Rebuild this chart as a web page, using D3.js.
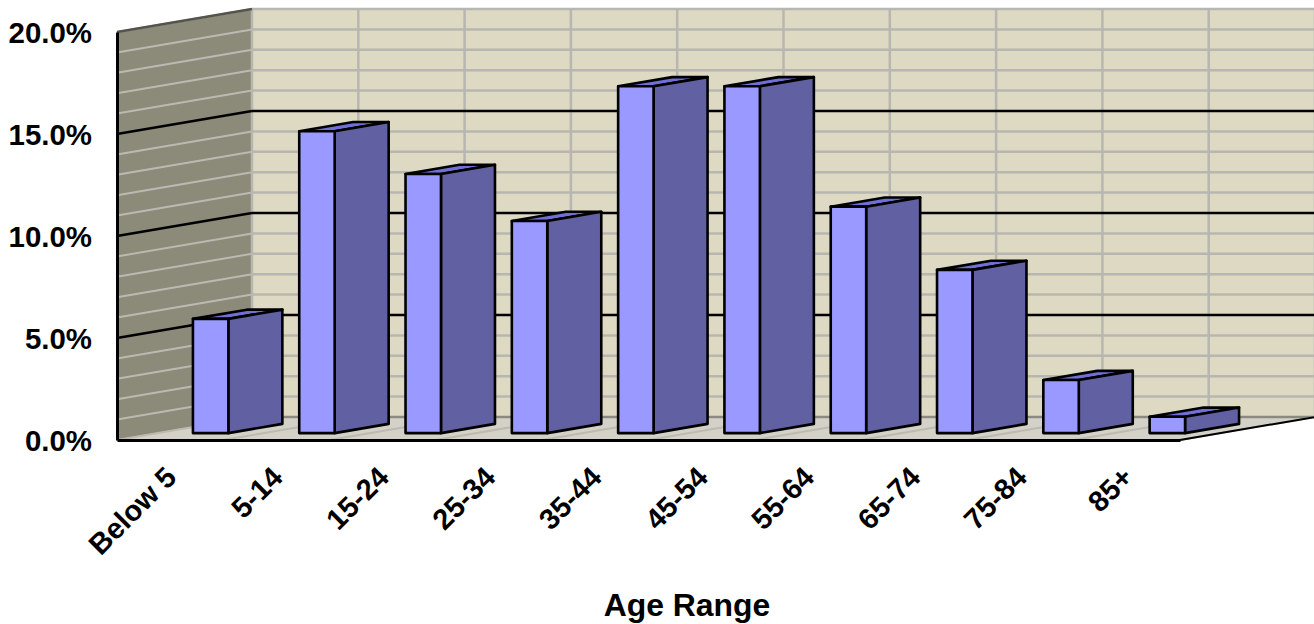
<!DOCTYPE html>
<html>
<head>
<meta charset="utf-8">
<script src="https://cdn.jsdelivr.net/npm/d3@7"></script>
<style>
    html, body { margin: 0; padding: 0; background: #fff; overflow: hidden; }
    svg { display: block; }
    text { font-family: "Liberation Sans", Arial, sans-serif; font-weight: bold; fill: #000; }
</style>
</head>
<body>
<div id="chart"></div>
<script>
const categories = ['Below 5', '5-14', '15-24', '25-34', '35-44', '45-54', '55-64', '65-74', '75-84', '85+'];
const shares = [5.6, 14.8, 12.7, 10.4, 17.0, 17.0, 11.1, 8.0, 2.6, 0.8];
const majorTicks = [0, 5, 10, 15, 20];
const minorTicks = d3.range(0, 21);

const width = 1314, height = 624;

const svg = d3.select('#chart').append('svg')
    .attr('width', width)
    .attr('height', height);

// front plane scales
const x = d3.scaleBand().domain(categories).range([117, 1180]);
const y = d3.scaleLinear().domain([0, 20]).range([440, 32]);

// depth goes from the front plane (0) to the back wall (1)
const depthX = d3.scaleLinear().domain([0, 1]).range([0, 135]);
const depthY = d3.scaleLinear().domain([0, 1]).range([0, -23]);

// project a point: px on the front plane, value, depth
function pt(px, value, depth) {
    return [px + depthX(depth), y(value) + depthY(depth)];
}
function poly(points) {
    return points.map(p => p.join(',')).join(' ');
}
function seg(sel, a, b) {
    return sel.append('line')
        .attr('x1', a[0]).attr('y1', a[1])
        .attr('x2', b[0]).attr('y2', b[1]);
}

const left = x.range()[0], right = x.range()[1];
const edges = categories.map(c => x(c)).concat([right]);

// walls and floor
svg.append('polygon')
    .attr('points', poly([pt(left, 0, 1), pt(right, 0, 1), pt(right, 20, 1), pt(left, 20, 1)]))
    .attr('fill', '#ddd9c3');
svg.append('polygon')
    .attr('points', poly([pt(left, 0, 0), pt(left, 0, 1), pt(left, 20, 1), pt(left, 20, 0)]))
    .attr('fill', '#8c8a78');
svg.append('polygon')
    .attr('points', poly([pt(left, 0, 0), pt(right, 0, 0), pt(right, 0, 1), pt(left, 0, 1)]))
    .attr('fill', '#d4d1c8');

const grid = svg.append('g');

// minor grid
minorTicks.filter(t => !majorTicks.includes(t) || t === 20 || t === 0).forEach(t => {
    seg(grid, pt(left, t, 0), pt(left, t, 1)).attr('stroke', '#bbb9b2').attr('stroke-width', t === 0 ? 1 : 2);
    seg(grid, pt(left, t, 1), pt(right, t, 1)).attr('stroke', t === 0 ? '#8c8a80' : '#b8b6b0').attr('stroke-width', 2.5);
});
edges.forEach(e => {
    seg(grid, pt(e, 0, 1), pt(e, 20, 1)).attr('stroke', '#b8b6b0').attr('stroke-width', 2.5);
    seg(grid, pt(e, 0, 0), pt(e, 0, 1)).attr('stroke', '#bdbab0').attr('stroke-width', 2);
});

// major grid
majorTicks.filter(t => t > 0 && t < 20).forEach(t => {
    seg(grid, pt(left, t, 0), pt(left, t, 1)).attr('stroke', '#000').attr('stroke-width', 2.5);
    seg(grid, pt(left, t, 1), pt(right, t, 1)).attr('stroke', '#000').attr('stroke-width', 2.5);
});
seg(grid, pt(left, 20, 0), pt(left, 20, 1)).attr('stroke', '#55544c').attr('stroke-width', 2.5);
seg(grid, pt(right, 0, 0), pt(right, 0, 1)).attr('stroke', '#000').attr('stroke-width', 2);

// bars
const barW = x.bandwidth() / 3;
const d0 = 0.3, d1 = 0.7;
const bars = svg.append('g')
    .selectAll('g')
    .data(categories.map((c, i) => ({ c, v: shares[i] })))
    .join('g')
    .attr('stroke', '#000')
    .attr('stroke-width', 2.6)
    .attr('stroke-linejoin', 'round');

bars.append('polygon')
    .attr('fill', '#6f6fd6')
    .attr('points', d => {
        const a = x(d.c) + barW, b = a + barW;
        return poly([pt(a, d.v, d0), pt(b, d.v, d0), pt(b, d.v, d1), pt(a, d.v, d1)]);
    });
bars.append('polygon')
    .attr('fill', '#6060a2')
    .attr('points', d => {
        const b = x(d.c) + 2 * barW;
        return poly([pt(b, 0, d0), pt(b, 0, d1), pt(b, d.v, d1), pt(b, d.v, d0)]);
    });
bars.append('polygon')
    .attr('fill', '#9999ff')
    .attr('points', d => {
        const a = x(d.c) + barW, b = a + barW;
        return poly([pt(a, 0, d0), pt(b, 0, d0), pt(b, d.v, d0), pt(a, d.v, d0)]);
    });

// axes
const yAxis = svg.append('g')
    .attr('transform', `translate(${left},0)`)
    .call(d3.axisLeft(y).tickValues(majorTicks).tickFormat(d => d.toFixed(1) + '%').tickSize(0).tickPadding(25));
yAxis.select('.domain').attr('stroke', '#000').attr('stroke-width', 3);
yAxis.selectAll('text')
    .style('font-size', '29px')
    .attr('fill', '#000')
    .attr('dy', '0.37em')
    .attr('x', 0)
    .attr('transform', 'translate(-25,0) scale(1.015,1)');

const xAxis = svg.append('g')
    .attr('transform', `translate(0,${y(0)})`)
    .call(d3.axisBottom(x).tickSize(0).tickSizeOuter(0));
xAxis.select('.domain').attr('stroke', '#000').attr('stroke-width', 3);
xAxis.selectAll('text')
    .style('font-size', '29px')
    .attr('fill', '#000')
    .attr('text-anchor', 'end')
    .attr('dy', 0)
    .attr('y', 0)
    .attr('transform', 'translate(8,39) rotate(-45)');

svg.append('text')
    .attr('transform', 'translate(687,616) scale(1.03,1)')
    .attr('text-anchor', 'middle')
    .style('font-size', '31px')
    .text('Age Range');
</script>
</body>
</html>
